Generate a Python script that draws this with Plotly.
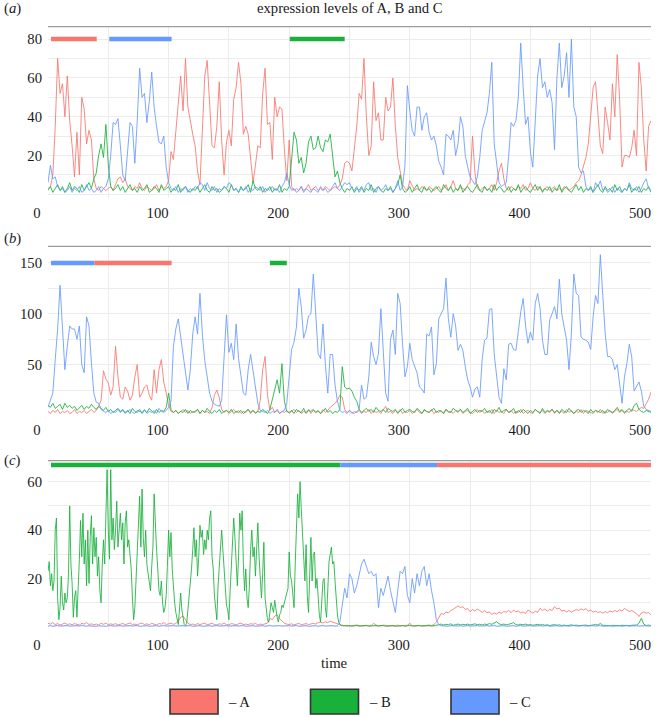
import plotly.graph_objects as go

# ---------------- data ----------------
time = list(range(0, 501, 2))
time_c_B = list(range(0, 247)) + list(range(248, 501, 2))

# panel (a)
a_A = [3, 4, 10, 35, 70, 52, 57, 40, 61, 38,
       25, 9, 32, 10, 50, 44, 26, 33, 28, 8,
       3, 2, 4, 3, 2, 3, 4, 2, 5, 8,
       9, 6, 8, 4, 3, 2, 4, 3, 6, 3,
       2, 4, 3, 2, 3, 5, 2, 4, 3, 4,
       7, 22, 18, 33, 47, 61, 43, 70, 45, 37,
       31, 25, 12, 5, 35, 61, 69, 45, 25, 24,
       35, 58, 28, 10, 27, 33, 25, 49, 55, 68,
       57, 31, 35, 31, 18, 6, 15, 25, 24, 52,
       65, 36, 37, 18, 50, 40, 45, 44, 23, 7,
       28, 4, 2, 3, 2, 4, 2, 3, 5, 2,
       3, 4, 2, 3, 2, 4, 3, 2, 3, 4,
       3, 5, 8, 16, 17, 16, 12, 24, 35, 52,
       49, 70, 40, 20, 25, 58, 38, 42, 28, 28,
       50, 43, 45, 60, 35, 19, 12, 5, 3, 2,
       7, 4, 2, 3, 2, 4, 3, 2, 4, 3,
       2, 3, 4, 2, 3, 5, 2, 4, 7, 3,
       2, 4, 3, 2, 5, 6, 30, 11, 3, 2,
       3, 4, 2, 3, 5, 2, 6, 12, 16, 8,
       3, 2, 4, 3, 2, 4, 3, 5, 2, 3,
       6, 3, 2, 4, 3, 2, 3, 4, 2, 3,
       4, 2, 3, 2, 4, 3, 2, 3, 4, 6,
       7, 10, 14, 19, 26, 40, 55, 58, 40, 25,
       21, 45, 37, 28, 57, 40, 72, 49, 14, 20,
       20, 19, 24, 33, 20, 68, 55, 28, 12, 35,
       38]
a_B = [2, 4, 1, 3, 5, 2, 4, 1, 3, 6,
       2, 4, 3, 1, 5, 2, 4, 6, 3, 8,
       11, 20, 26, 19, 36, 15, 4, 2, 3, 5,
       2, 4, 1, 3, 5, 2, 3, 1, 4, 2,
       3, 5, 1, 2, 4, 3, 1, 5, 2, 3,
       4, 1, 3, 2, 5, 1, 3, 4, 2, 1,
       3, 2, 4, 1, 3, 5, 2, 1, 4, 2,
       3, 1, 2, 4, 3, 1, 5, 2, 3, 1,
       4, 2, 3, 5, 1, 7, 3, 2, 4, 1,
       3, 2, 4, 1, 3, 2, 5, 1, 3, 2,
       4, 18, 32, 28, 16, 19, 11, 16, 27, 30,
       23, 24, 30, 24, 22, 28, 27, 31, 21, 9,
       12, 6, 3, 1, 3, 2, 4, 1, 3, 2,
       4, 1, 3, 2, 5, 1, 3, 4, 2, 1,
       3, 2, 4, 1, 3, 5, 10, 3, 1, 2,
       4, 1, 3, 5, 2, 1, 4, 2, 3, 1,
       3, 4, 2, 1, 5, 3, 2, 4, 1, 3,
       2, 5, 1, 3, 4, 2, 1, 3, 5, 2,
       1, 4, 2, 3, 1, 5, 2, 4, 3, 1,
       2, 4, 1, 3, 2, 5, 1, 3, 4, 2,
       1, 3, 5, 2, 4, 1, 3, 2, 4, 1,
       3, 2, 5, 1, 3, 4, 2, 1, 3, 5,
       2, 4, 1, 3, 2, 4, 1, 3, 5, 2,
       1, 4, 2, 3, 1, 5, 2, 4, 1, 3,
       2, 5, 1, 3, 2, 4, 1, 3, 2, 4,
       1]
a_C = [6, 15, 8, 9, 4, 2, 3, 1, 2, 4,
       1, 3, 2, 4, 1, 2, 5, 2, 3, 1,
       2, 4, 1, 3, 4, 8, 20, 37, 36, 39,
       25, 10, 7, 22, 37, 35, 16, 38, 65, 50,
       52, 37, 48, 63, 45, 35, 27, 26, 30, 14,
       6, 3, 2, 4, 1, 3, 2, 4, 1, 3,
       2, 4, 3, 6, 5, 2, 6, 3, 2, 4,
       1, 3, 2, 4, 3, 6, 5, 2, 3, 1,
       3, 2, 4, 1, 3, 2, 4, 3, 2, 4,
       1, 3, 2, 4, 2, 3, 1, 4, 6, 11,
       5, 2, 3, 1, 2, 4, 1, 3, 2, 1,
       3, 2, 1, 4, 2, 3, 1, 2, 4, 6,
       3, 2, 4, 6, 5, 6, 3, 2, 4, 1,
       3, 2, 5, 6, 2, 3, 1, 4, 2, 3,
       5, 2, 3, 1, 3, 7, 2, 4, 15, 56,
       43, 33, 30, 45, 45, 33, 40, 42, 32, 28,
       30, 25, 17, 14, 10, 31, 30, 28, 33, 20,
       26, 40, 35, 20, 14, 9, 7, 5, 9, 19,
       33, 37, 42, 52, 68, 26, 16, 6, 4, 5,
       6, 20, 37, 35, 38, 50, 78, 55, 36, 40,
       22, 14, 40, 61, 70, 55, 58, 50, 54, 47,
       23, 60, 78, 55, 61, 73, 50, 80, 45, 40,
       14, 11, 12, 4, 2, 3, 1, 6, 4, 7,
       2, 3, 1, 2, 4, 1, 3, 2, 1, 3,
       2, 6, 3, 2, 4, 1, 3, 6, 8, 3,
       2]

# panel (b)
b_A = [4, 2, 5, 3, 6, 2, 4, 3, 5, 2,
       3, 6, 2, 4, 3, 5, 2, 4, 6, 3,
       5, 9, 15, 44, 36, 32, 20, 28, 68, 38,
       18, 16, 28, 24, 15, 20, 38, 50, 18, 22,
       28, 30, 20, 15, 45, 22, 45, 55, 33, 22,
       10, 4, 3, 5, 2, 4, 6, 3, 5, 2,
       4, 3, 6, 2, 5, 3, 4, 2, 8, 20,
       25, 18, 6, 3, 5, 2, 4, 6, 3, 5,
       2, 4, 3, 6, 2, 5, 3, 4, 15, 45,
       58, 20, 5, 8, 3, 5, 2, 4, 3, 5,
       2, 4, 6, 3, 5, 2, 4, 3, 6, 2,
       5, 3, 4, 2, 6, 3, 5, 8, 10, 12,
       15, 20, 18, 6, 3, 5, 2, 4, 3, 5,
       2, 4, 3, 6, 2, 5, 3, 4, 2, 5,
       9, 3, 4, 2, 5, 3, 6, 2, 4, 3,
       5, 2, 4, 6, 3, 2, 5, 4, 3, 6,
       2, 4, 3, 5, 2, 6, 3, 4, 2, 5,
       3, 6, 2, 4, 5, 3, 2, 4, 6, 3,
       5, 2, 4, 3, 6, 2, 5, 3, 4, 2,
       6, 3, 5, 2, 4, 3, 6, 2, 4, 5,
       3, 2, 6, 4, 3, 5, 2, 4, 3, 6,
       2, 5, 3, 4, 2, 6, 3, 5, 2, 4,
       3, 6, 2, 5, 4, 3, 2, 5, 3, 6,
       2, 4, 3, 5, 2, 4, 6, 3, 5, 2,
       4, 3, 6, 5, 4, 6, 8, 7, 12, 16,
       23]
b_B = [10, 8, 12, 7, 9, 11, 6, 12, 8, 10,
       7, 9, 5, 8, 10, 6, 9, 7, 11, 8,
       6, 9, 7, 5, 8, 4, 6, 3, 5, 7,
       4, 6, 3, 5, 2, 7, 4, 3, 6, 2,
       5, 3, 7, 4, 2, 6, 3, 5, 4, 8,
       22, 6, 3, 5, 2, 4, 3, 6, 2, 5,
       3, 4, 6, 2, 5, 3, 7, 4, 2, 5,
       3, 6, 2, 4, 5, 3, 6, 2, 4, 3,
       5, 2, 4, 6, 3, 5, 2, 4, 3, 6,
       4, 2, 6, 15, 25, 35, 22, 51, 14, 4,
       3, 5, 2, 6, 4, 3, 7, 2, 5, 4,
       6, 3, 5, 2, 4, 7, 3, 5, 2, 4,
       3, 6, 48, 28, 26, 27, 24, 18, 14, 6,
       3, 5, 7, 4, 6, 3, 8, 5, 4, 6,
       3, 7, 5, 4, 6, 2, 5, 7, 3, 5,
       6, 4, 3, 7, 5, 2, 6, 4, 3, 5,
       7, 3, 5, 4, 2, 6, 4, 3, 7, 5,
       4, 6, 3, 5, 7, 2, 4, 6, 3, 5,
       4, 7, 3, 5, 2, 6, 4, 8, 3, 5,
       6, 3, 4, 7, 2, 5, 3, 6, 4, 2,
       5, 3, 6, 4, 2, 7, 3, 5, 4, 6,
       3, 5, 2, 6, 4, 3, 7, 4, 2, 5,
       6, 3, 5, 4, 2, 6, 3, 5, 4, 3,
       5, 2, 6, 4, 3, 5, 8, 4, 6, 3,
       5, 7, 4, 10, 12, 6, 4, 3, 5, 4,
       3]
b_C = [8, 14, 22, 55, 85, 128, 92, 45, 68, 88,
       85, 85, 75, 88, 50, 42, 97, 88, 52, 22,
       13, 12, 6, 4, 3, 5, 2, 4, 3, 6,
       3, 5, 2, 4, 6, 3, 2, 5, 4, 3,
       6, 2, 4, 3, 5, 2, 7, 4, 3, 5,
       8, 14, 68, 85, 95, 78, 58, 42, 25, 45,
       80, 97, 80, 120, 80, 54, 38, 22, 14, 11,
       10, 9, 15, 60, 99, 62, 71, 55, 90, 56,
       40, 22, 20, 45, 60, 45, 28, 12, 5, 4,
       3, 5, 2, 4, 3, 6, 2, 4, 5, 12,
       38, 65, 72, 87, 125, 107, 76, 84, 98, 100,
       139, 95, 61, 56, 90, 50, 22, 60, 60, 30,
       14, 5, 3, 4, 2, 5, 3, 2, 4, 6,
       30, 16, 18, 38, 72, 58, 50, 61, 105, 60,
       22, 14, 75, 84, 60, 120, 110, 70, 38, 48,
       71, 55, 48, 42, 28, 26, 22, 80, 78, 87,
       40, 51, 95, 100, 105, 135, 95, 77, 100, 88,
       64, 70, 64, 48, 35, 28, 18, 26, 28, 18,
       55, 74, 76, 104, 105, 60, 40, 18, 12, 46,
       35, 70, 71, 65, 64, 85, 102, 115, 88, 71,
       82, 74, 110, 120, 105, 74, 60, 60, 94, 100,
       107, 95, 134, 100, 85, 74, 45, 81, 139, 120,
       118, 77, 75, 74, 72, 65, 97, 118, 110, 158,
       118, 81, 58, 58, 55, 45, 50, 28, 12, 38,
       51, 70, 58, 24, 28, 33, 24, 9, 6, 5,
       4]

# panel (c)
c_A = [1.5, 1.2, 1.8, 1, 1.4, 0.8, 1.2, 1.6, 1, 1.3,
       0.9, 1.4, 1.1, 0.8, 1.5, 1.2, 1.8, 1, 1.3, 0.9,
       1.2, 0.8, 1.5, 1.1, 1.6, 0.9, 1.3, 1, 1.4, 0.8,
       1.1, 1.5, 0.9, 1.3, 1.7, 1, 1.2, 0.8, 1.4, 1.6,
       1, 1.3, 0.9, 1.5, 1.1, 0.8, 1.4, 1.2, 1.8, 1,
       1.3, 1.6, 1.1, 1.4, 2.5, 4, 4.5, 3, 1.5, 1,
       1.2, 0.8, 1.4, 1, 1.3, 1.6, 0.9, 1.2, 1.5, 1,
       0.8, 1.3, 1.1, 1.6, 1, 0.9, 1.4, 1.2, 0.8, 1.3,
       1.6, 1, 1.2, 0.9, 1.4, 1.1, 1.5, 0.8, 1.2, 1,
       1.3, 1.6, 3.5, 3, 4.5, 5, 3.5, 2.5, 1.5, 1.2,
       1, 1.3, 0.8, 1.2, 1.5, 0.9, 1.1, 1.4, 1, 1.2,
       1.5, 1.2, 1.8, 2, 1.6, 2.2, 1.8, 2.4, 2, 1.5,
       1.2, 0.8, 0.6, 0.5, 0.7, 0.4, 0.6, 0.5, 0.8, 0.4,
       0.6, 0.5, 0.7, 0.4, 0.6, 1.5, 0.8, 0.5, 0.6, 0.4,
       0.7, 0.5, 0.4, 0.6, 0.5, 0.8, 0.4, 0.6, 0.5, 0.7,
       1.5, 0.6, 0.4, 0.5, 0.7, 0.4, 0.6, 0.5, 0.8, 0.6,
       1, 2, 4, 5.6, 5.2, 6.2, 5.8, 6.8, 7.3, 8.2,
       8.7, 8, 8.4, 7.2, 7.6, 6.3, 7.2, 6.6, 7.4, 6.8,
       6, 6.8, 5.9, 6.2, 5.2, 5.8, 5.3, 6.1, 5.6, 6.4,
       6.1, 6.8, 5.9, 7, 6.2, 6.6, 5.8, 6.2, 5.6, 7,
       6.2, 5.7, 6.5, 6.1, 7.7, 6.8, 7.4, 6.5, 7.3, 6.8,
       8.4, 7.4, 7.8, 6.5, 6.9, 6.2, 6.8, 6.1, 6.7, 7.2,
       6.8, 7.5, 7, 7.6, 6.5, 6.9, 6.1, 6.6, 6, 6.3,
       5.7, 6.3, 5.9, 6.6, 6.2, 6.8, 6.3, 7.1, 6.6, 7.7,
       7, 6.4, 6.8, 6, 5.5, 4.3, 5.8, 6.2, 5.7, 6,
       5]
c_B = [23, 27, 17, 22, 15, 19, 40, 45, 12, 3,
       8, 21, 10, 7, 14, 10, 12, 22, 50, 26,
       18, 4, 12, 15, 4, 15, 28, 44, 29, 47,
       26, 36, 17, 40, 18, 37, 46, 26, 41, 29,
       37, 21, 29, 15, 10, 26, 36, 26, 45, 65,
       40, 28, 65, 36, 45, 32, 40, 52, 33, 40,
       47, 36, 43, 26, 43, 48, 33, 36, 30, 24,
       12, 3, 8, 20, 31, 40, 54, 33, 57, 37,
       29, 40, 26, 22, 19, 15, 25, 33, 55, 40,
       32, 24, 15, 13, 19, 10, 6, 8, 13, 25,
       40, 29, 39, 24, 15, 10, 6, 4, 1, 7,
       14, 7, 4, 1, 0.5, 1.5, 7, 12, 17, 24,
       32, 41, 29, 36, 21, 29, 42, 37, 40, 30,
       36, 32, 40, 36, 45, 48, 29, 24, 13, 6,
       3, 17, 24, 33, 40, 32, 24, 15, 9, 7,
       3, 15, 24, 36, 45, 37, 26, 17, 29, 47,
       40, 48, 26, 15, 24, 12, 8, 17, 32, 40,
       29, 33, 21, 33, 43, 29, 19, 12, 22, 35,
       12, 6, 3, 2, 6, 10, 8, 6, 11, 7,
       4, 2, 5, 6, 9, 8, 10, 12, 13, 16,
       31, 21, 19, 12, 8, 26, 43, 55, 45, 60,
       49, 38, 30, 19, 34, 13, 6, 23, 37, 19,
       30, 31, 16, 20, 10, 5, 2, 10, 19, 20,
       8, 4, 16, 27, 30, 33, 26, 27, 19, 10,
       5, 2, 1, 0.5, 0.8, 0.5, 0.6,
       0.4, 0.6, 0.3, 0.5, 0.7, 0.4, 0.5, 0.3, 0.6, 0.4,
       0.5, 0.3, 0.6, 0.4, 0.5, 0.7, 0.3, 0.5, 0.4, 0.6,
       0.3, 0.5, 0.4, 0.6, 0.3, 0.5, 0.7, 0.4, 0.5, 0.3,
       0.6, 0.4, 0.5, 0.3, 0.6, 0.4, 0.5, 0.7, 0.9, 1.2,
       0.8, 1.1, 0.9, 1.3, 0.7, 1, 1.2, 0.8, 1.1, 0.9,
       1.2, 0.8, 1, 1.3, 0.9, 1.1, 0.8, 1.2, 1, 1.4,
       1.1, 1.6, 2.2, 1.3, 1, 1.2, 0.9, 1.1, 1.3, 1.8,
       1, 0.8, 1.1, 0.9, 1.2, 0.8, 1, 0.7, 0.9, 1.1,
       0.8, 1, 0.7, 0.9, 0.6, 0.8, 1, 0.7, 0.9, 0.6,
       0.8, 0.5, 0.7, 0.9, 0.6, 0.8, 0.5, 0.7, 0.6, 0.8,
       0.5, 0.7, 0.6, 1, 0.8, 1.5, 0.7, 0.6, 0.8, 0.5,
       0.7, 0.6, 0.8, 0.5, 0.7, 0.6, 0.8, 0.5, 0.7, 0.6,
       0.8, 1.5, 3.6, 1.2, 0.6, 0.8, 0.5]
c_C = [0.4, 0.6, 0.3, 0.5, 0.7, 0.4, 0.5, 0.3, 0.6, 0.4,
       0.5, 0.3, 0.6, 0.4, 0.7, 0.5, 0.3, 0.5, 0.4, 0.6,
       0.3, 0.5, 0.4, 0.6, 0.3, 0.5, 0.7, 0.4, 0.5, 0.3,
       0.6, 0.4, 0.5, 0.3, 0.6, 0.4, 0.5, 0.7, 0.3, 0.5,
       0.4, 0.6, 0.3, 0.5, 0.4, 0.6, 0.3, 0.5, 0.7, 0.4,
       0.5, 0.3, 0.6, 0.4, 0.5, 0.3, 0.6, 0.4, 0.5, 0.7,
       0.3, 0.5, 0.4, 0.6, 0.3, 0.5, 0.4, 0.6, 0.3, 0.5,
       0.7, 0.4, 0.5, 0.3, 0.6, 0.4, 0.5, 0.3, 0.6, 0.4,
       0.5, 0.7, 0.3, 0.5, 0.4, 0.6, 0.3, 0.5, 0.4, 0.6,
       0.3, 0.5, 0.7, 0.4, 0.5, 0.3, 0.6, 0.4, 0.5, 0.3,
       0.6, 0.4, 0.5, 0.7, 0.3, 0.5, 0.4, 0.6, 0.3, 0.5,
       0.4, 0.6, 0.3, 0.5, 0.7, 0.4, 0.5, 0.3, 0.6, 0.4,
       0.5, 2, 10, 16, 12, 22, 20, 14, 17, 21,
       26, 28, 25, 22, 23, 21, 22, 8, 16, 13,
       17, 21, 15, 10, 6, 15, 23, 22, 25, 13,
       10, 20, 14, 22, 17, 23, 25, 17, 22, 15,
       10, 3, 1, 0.6, 0.4, 0.5, 0.3, 0.6, 0.4, 0.5,
       0.4, 0.6, 0.3, 0.5, 0.7, 0.4, 0.5, 0.3, 0.6, 0.4,
       0.5, 0.3, 0.6, 0.4, 0.5, 0.7, 0.3, 0.5, 0.4, 0.6,
       0.3, 0.5, 0.4, 0.6, 0.3, 0.5, 0.7, 0.4, 0.5, 0.3,
       0.6, 0.4, 0.5, 0.3, 0.6, 0.4, 0.5, 0.7, 0.3, 0.5,
       0.4, 0.6, 0.3, 0.5, 0.4, 0.6, 0.3, 0.5, 0.7, 0.4,
       0.5, 0.3, 0.6, 0.4, 0.5, 0.3, 0.6, 0.4, 0.5, 0.7,
       0.3, 0.5, 0.4, 0.6, 0.3, 0.5, 0.4, 0.6, 0.3, 0.5,
       0.7, 0.4, 0.5, 0.3, 0.6, 0.4, 0.5, 0.3, 0.6, 0.4,
       0.5]

# dominance bars drawn at the top of each panel: (species, start, end)
bars_a = [("A", 2.5, 40.4), ("C", 50.8, 102.5), ("B", 200.5, 246)]
bars_b = [("C", 2.5, 38.4), ("A", 38.4, 102.5), ("B", 184, 198)]
bars_c = [("B", 2.5, 242.5), ("C", 242.5, 322.6), ("A", 322.6, 500)]
bar_level = {"a": 80, "b": 150, "c": 66.9}

x_ticks = list(range(0, 501, 50))
x_labels = [str(v) if v % 100 == 0 else "" for v in x_ticks]
y_ticks = {"a": list(range(0, 81, 10)), "b": list(range(0, 151, 25)), "c": list(range(0, 61, 10))}
y_labels = {"a": [20, 40, 60, 80], "b": [50, 100, 150], "c": [20, 40, 60]}
y_range = {"a": [-2, 86.4], "b": [0, 166.3], "c": [-1.5, 68.7]}

species = ["A", "B", "C"]
title_text = "expression levels of A, B and C"
xlabel_text = "time"

# ---------------- style ----------------
COL = {"A": "#F8766D", "B": "#19B03B", "C": "#6699FF"}
SERIF = "Liberation Serif"
FS = 14.7
TXT = "#1a1a1a"
GRID = "#ececec"
W, H = 656, 717
ML, MR = 48, 5
PW = W - ML - MR


def px_to_paper_x(px):
    return (px - ML) / PW


def py_to_paper_y(py):
    return 1 - py / H


domains = {"a": [1 - 198.2 / H, 1 - 26.7 / H],
           "b": [1 - 415.5 / H, 1 - 246.3 / H],
           "c": [1 - 630.6 / H, 1 - 460.7 / H]}

panels = [
    ("a", "", {"A": (time, a_A), "B": (time, a_B), "C": (time, a_C)}, bars_a),
    ("b", "2", {"A": (time, b_A), "B": (time, b_B), "C": (time, b_C)}, bars_b),
    ("c", "3", {"A": (time, c_A), "B": (time_c_B, c_B), "C": (time, c_C)}, bars_c),
]

fig = go.Figure()
layout = {}
shapes = []
annotations = []

for key, sfx, series, bars in panels:
    xa, ya = "x" + sfx, "y" + sfx
    for s in species:
        xs, ys = series[s]
        fig.add_trace(go.Scatter(x=xs, y=ys, mode="lines", xaxis=xa, yaxis=ya,
                                 line=dict(color=COL[s], width=1), opacity=0.85,
                                 hoverinfo="skip", showlegend=False))
    for s, t0, t1 in bars:
        fig.add_trace(go.Scatter(x=[t0, t1], y=[bar_level[key]] * 2, mode="lines",
                                 xaxis=xa, yaxis=ya, line=dict(color=COL[s], width=4.5),
                                 hoverinfo="skip", showlegend=False))
    layout["xaxis" + sfx] = dict(
        domain=[0, 1], anchor=ya, range=[0, 500], tickmode="array",
        tickvals=x_ticks, ticktext=x_labels, showgrid=True, gridcolor=GRID,
        gridwidth=1, zeroline=False, showline=False, ticks="",
        ticklabelshift=-11, ticklabelstandoff=4,
        tickfont=dict(family=SERIF, size=FS, color=TXT))
    layout["yaxis" + sfx] = dict(
        domain=domains[key], anchor=xa, range=y_range[key], tickmode="array",
        tickvals=y_ticks[key],
        ticktext=[str(v) if v in y_labels[key] else "" for v in y_ticks[key]],
        showgrid=True, gridcolor=GRID, gridwidth=1, zeroline=False,
        showline=False, ticks="", ticklabelstandoff=5,
        tickfont=dict(family=SERIF, size=FS, color=TXT))
    shapes.append(dict(type="line", xref=xa + " domain", yref=ya + " domain",
                       x0=0, x1=1, y0=1, y1=1, line=dict(color="#9b9b9b", width=1.3)))
    label_py = {"a": 8.5, "b": 239, "c": 460}[key]
    annotations.append(dict(text="(<i>%s</i>)" % key, xref="paper", yref="paper",
                            x=px_to_paper_x(2), y=py_to_paper_y(label_py),
                            xanchor="left", yanchor="middle", showarrow=False,
                            font=dict(family=SERIF, size=FS, color=TXT)))

annotations.append(dict(text=title_text, xref="paper", yref="paper", x=0.5,
                        y=py_to_paper_y(8.5), xanchor="center", yanchor="middle",
                        showarrow=False, font=dict(family=SERIF, size=FS, color=TXT)))
annotations.append(dict(text=xlabel_text, xref="paper", yref="paper",
                        x=px_to_paper_x(334), y=py_to_paper_y(663), xanchor="center",
                        yanchor="middle", showarrow=False,
                        font=dict(family=SERIF, size=FS, color=TXT)))

# custom legend: coloured boxes with "– A" style labels
for i, s in enumerate(species):
    bx0 = 170 + i * 140.5
    shapes.append(dict(type="rect", xref="paper", yref="paper",
                       x0=px_to_paper_x(bx0), x1=px_to_paper_x(bx0 + 48),
                       y0=py_to_paper_y(714), y1=py_to_paper_y(689.3),
                       fillcolor=COL[s], line=dict(color="#333333", width=1.6)))
    annotations.append(dict(text="\u2013 " + s, xref="paper", yref="paper",
                            x=px_to_paper_x(bx0 + 56), y=py_to_paper_y(702),
                            xanchor="left", yanchor="middle", showarrow=False,
                            font=dict(family=SERIF, size=FS, color=TXT)))

fig.update_layout(width=W, height=H, margin=dict(l=ML, r=MR, t=0, b=0),
                  plot_bgcolor="white", paper_bgcolor="white", showlegend=False,
                  font=dict(family=SERIF, size=FS, color=TXT),
                  shapes=shapes, annotations=annotations, **layout)

fig.write_html("out.html",
               config={"displayModeBar": False, "staticPlot": True},
               post_script="document.body.style.margin='0px';"
                           "document.body.style.padding='0px';"
                           "document.body.style.overflow='hidden';")
